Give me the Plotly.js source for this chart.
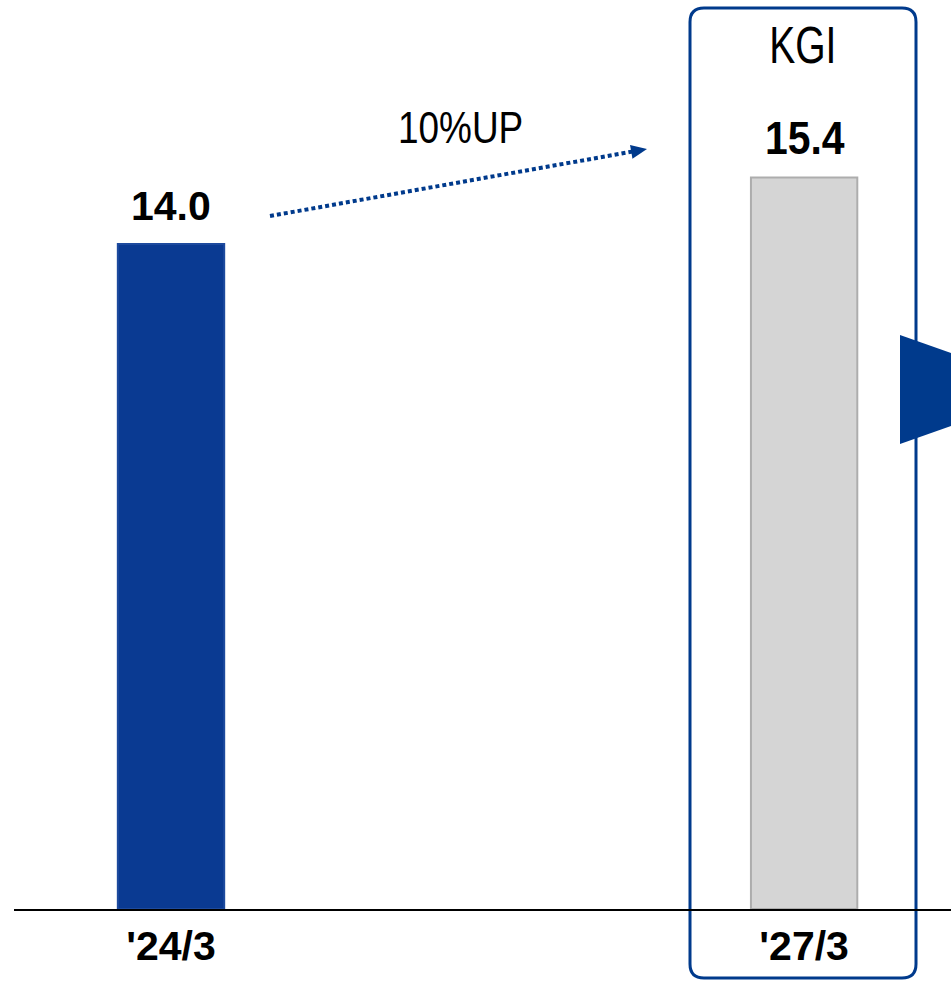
<!DOCTYPE html>
<html>
<head>
<meta charset="utf-8">
<script src="https://cdn.plot.ly/plotly-3.0.1.min.js"></script>
<style>html,body{margin:0;padding:0;background:#fff;}#chart{width:951px;height:981px;}</style>
</head>
<body>
<div id="chart"></div>
<script>
var categories = ["'24/3", "'27/3"];
var values = [14.0, 15.4];
var valueLabels = ["14.0", "15.4"];
var barColors = ["#0A3A92", "#D5D5D5"];
var barEdges = ["#1D4A9E", "#ADADAD"];
var headerLabel = "KGI";
var growthLabel = "10%UP";

var W = 951, H = 981;
var L = 14, R = 0, T = 0, B = 72;
var pw = W - L - R, ph = H - T - B;
function px(x) { return (x - L) / pw; }
function py(y) { return (H - B - y) / ph; }

var xs = categories.map(function (c, i) { return i; });

var trace = {
  type: 'bar',
  x: xs,
  y: values,
  width: 0.168,
  marker: { color: barColors, line: { color: barEdges, width: 2 } },
  hoverinfo: 'skip'
};

function roundRect(x0, y0, x1, y1, r) {
  return 'M' + px(x0 + r) + ',' + py(y0) +
    ' L' + px(x1 - r) + ',' + py(y0) +
    ' Q' + px(x1) + ',' + py(y0) + ' ' + px(x1) + ',' + py(y0 + r) +
    ' L' + px(x1) + ',' + py(y1 - r) +
    ' Q' + px(x1) + ',' + py(y1) + ' ' + px(x1 - r) + ',' + py(y1) +
    ' L' + px(x0 + r) + ',' + py(y1) +
    ' Q' + px(x0) + ',' + py(y1) + ' ' + px(x0) + ',' + py(y1 - r) +
    ' L' + px(x0) + ',' + py(y0 + r) +
    ' Q' + px(x0) + ',' + py(y0) + ' ' + px(x0 + r) + ',' + py(y0) + ' Z';
}

var ax0 = 270, ay0 = 216, tipX = 647, tipY = 149;
var dx = tipX - ax0, dy = tipY - ay0, len = Math.sqrt(dx * dx + dy * dy);
var ux = dx / len, uy = dy / len, nx = -uy, ny = ux;
var headLen = 16, headHalf = 7;
var bx = tipX - ux * headLen, by = tipY - uy * headLen;
var headPath = 'M' + px(tipX) + ',' + py(tipY) +
  ' L' + px(bx + nx * headHalf) + ',' + py(by + ny * headHalf) +
  ' L' + px(bx - nx * headHalf) + ',' + py(by - ny * headHalf) + ' Z';

var navy = '#003A8C';

var shapes = [
  { type: 'path', xref: 'paper', yref: 'paper', path: roundRect(690, 8, 916, 978, 14),
    line: { color: navy, width: 3 }, fillcolor: 'rgba(0,0,0,0)', layer: 'below' },
  { type: 'line', xref: 'paper', yref: 'paper', x0: px(ax0), y0: py(ay0), x1: px(bx + ux * 2), y1: py(by + uy * 2),
    line: { color: navy, width: 4, dash: '4px,3px' } },
  { type: 'path', xref: 'paper', yref: 'paper', path: headPath, line: { color: navy, width: 0 }, fillcolor: navy },
  { type: 'path', xref: 'paper', yref: 'paper',
    path: 'M' + px(900) + ',' + py(335) + ' L' + px(1054) + ',' + py(389.5) + ' L' + px(900) + ',' + py(444) + ' Z',
    line: { color: navy, width: 0 }, fillcolor: navy }
];

var sans = 'Liberation Sans, Arial, sans-serif';
var annotations = [
  { x: 0, y: values[0], xref: 'x', yref: 'y', text: valueLabels[0], showarrow: false,
    xanchor: 'center', yanchor: 'bottom', yshift: 13,
    font: { family: sans, size: 41, color: '#000', weight: 'bold' } },
  { x: 1, y: values[1], xref: 'x', yref: 'y', text: valueLabels[1], showarrow: false,
    xanchor: 'center', yanchor: 'bottom', yshift: 12,
    font: { family: sans, size: 47, color: '#000', weight: 'bold' } },
  { x: px(803), y: py(45), xref: 'paper', yref: 'paper', text: headerLabel, showarrow: false,
    xanchor: 'center', yanchor: 'middle',
    font: { family: sans, size: 52, color: '#000' } },
  { x: px(460), y: py(128), xref: 'paper', yref: 'paper', text: growthLabel, showarrow: false,
    xanchor: 'center', yanchor: 'middle',
    font: { family: sans, size: 44, color: '#000' } }
];
var squeeze = [1, 0.87, 0.75, 0.84];

var layout = {
  width: W, height: H,
  margin: { l: L, r: R, t: T, b: B, pad: 0 },
  paper_bgcolor: '#fff', plot_bgcolor: '#fff',
  showlegend: false,
  xaxis: {
    range: [-0.248, 1.232], tickvals: xs, ticktext: categories,
    showline: true, linecolor: '#000', linewidth: 2,
    showgrid: false, zeroline: false, ticks: '',
    tickfont: { family: sans, size: 41, color: '#000', weight: 'bold' }
  },
  yaxis: { range: [0, ph / 47.5], visible: false, showgrid: false, zeroline: false },
  shapes: shapes,
  annotations: annotations
};

Plotly.newPlot('chart', [trace], layout, { displayModeBar: false, staticPlot: true }).then(function (gd) {
  var texts = gd.querySelectorAll('.annotation-text');
  texts.forEach(function (el, i) {
    var s = squeeze[i];
    if (s && s !== 1) {
      el.style.transformBox = 'fill-box';
      el.style.transformOrigin = 'center';
      el.style.transform = 'scaleX(' + s + ')';
    }
  });
});
</script>
</body>
</html>
